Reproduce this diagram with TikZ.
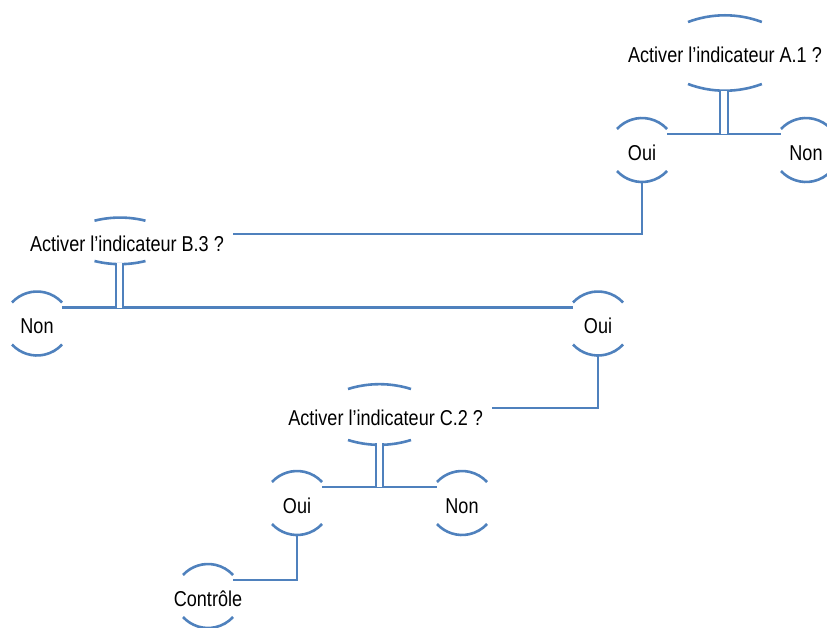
\documentclass[tikz,border=0pt]{standalone}
\usepackage{fontspec}
\setmainfont{Liberation Sans}[FakeStretch=0.84]
\usetikzlibrary{calc}
\definecolor{chartblue}{RGB}{79,129,189}

\tikzset{
  link/.style={draw=chartblue, line width=2.6pt},
  arcline/.style={draw=chartblue, line width=2.6pt},
  stem/.style={draw=chartblue, line width=2pt, double=white, double distance=5.5pt},
  answer/.style={inner sep=0pt, text height=20.4pt, text depth=0pt,
    font=\fontsize{21.5}{25}\selectfont},
  question/.style={inner xsep=9pt, inner ysep=0pt, text height=15.4pt, text depth=0pt,
    font=\fontsize{21.5}{25}\selectfont},
}

% two half-circle arcs above and below an answer node
\newcommand\ansarcs[1]{%
  \draw[arcline] ($(#1)+(-25,21)$) arc[start angle=137.4, end angle=42.6, radius=34pt];
  \draw[arcline] ($(#1)+(-25,-21)$) arc[start angle=222.6, end angle=317.4, radius=34pt];
}
% flat arcs above and below a question node: node, x offset, top chord, bottom chord, half width, half angle
\newcommand\questarcs[6]{%
  \draw[arcline] ($(#1)+(#2-#5,#3)$) arc[start angle=90+#6, end angle=90-#6, radius=105pt];
  \draw[arcline] ($(#1)+(#2-#5,#4)$) arc[start angle=270-#6, end angle=270+#6, radius=105pt];
}

\begin{document}
\begin{tikzpicture}[x=1pt, y=1pt]
  \useasboundingbox (0,0) rectangle (827,-627);

  % questions
  \node[question] (la) at (725,-55) {Activer l’indicateur A.1 ?};
  \node[question] (lb) at (127,-244) {Activer l’indicateur B.3 ?};
  \node[question] (lc) at (385.7,-418) {Activer l’indicateur C.2 ?};

  % answers
  \node[answer] (oa) at (642,-150) {Oui};
  \node[answer] (na) at (806,-150) {Non};
  \node[answer] (nb) at (37,-323.5) {Non};
  \node[answer] (ob) at (598,-323.5) {Oui};
  \node[answer] (oc) at (297,-503) {Oui};
  \node[answer] (nc) at (462,-503) {Non};
  \node[answer] (ct) at (208,-596) {Contrôle};

  \ansarcs{oa} \ansarcs{na} \ansarcs{nb} \ansarcs{ob}
  \ansarcs{oc} \ansarcs{nc} \ansarcs{ct}

  \questarcs{la}{0}{33}{-29}{37}{20.6}
  \questarcs{lb}{-7}{23.3}{-17}{25.5}{14.05}
  \questarcs{lc}{-6.2}{29}{-22}{31.5}{17.46}

  % attachment points
  \foreach \n in {oa,na,nb,ob,oc,nc,ct} {
    \coordinate (\n-w) at ($(\n)+(-25,16)$);
    \coordinate (\n-e) at ($(\n)+(25,16)$);
    \coordinate (\n-s) at ($(\n)+(0,-32)$);
  }
  \coordinate (lb-in) at ($(lb.east)+(0,10)$);
  \coordinate (lc-in) at ($(lc.east)+(0,10)$);
  \coordinate (la-stem) at ($(la)+(-1,-36)$);
  \coordinate (lb-stem) at ($(lb)+(-7.5,-19.3)$);
  \coordinate (lc-stem) at ($(lc)+(-6.2,-25)$);

  % branches under each question
  \draw[link] (oa-e) -- (na-w);
  \draw[link] (nb-e) -- (ob-w);
  \draw[link] (oc-e) -- (nc-w);
  \draw[stem] (la-stem) -- (la-stem |- oa-e);
  \draw[stem] (lb-stem) -- (lb-stem |- nb-e);
  \draw[stem] (lc-stem) -- (lc-stem |- oc-e);

  % follow-up links
  \draw[link] (oa-s) |- (lb-in);
  \draw[link] (ob-s) |- (lc-in);
  \draw[link] (oc-s) |- (ct-e);
\end{tikzpicture}
\end{document}
